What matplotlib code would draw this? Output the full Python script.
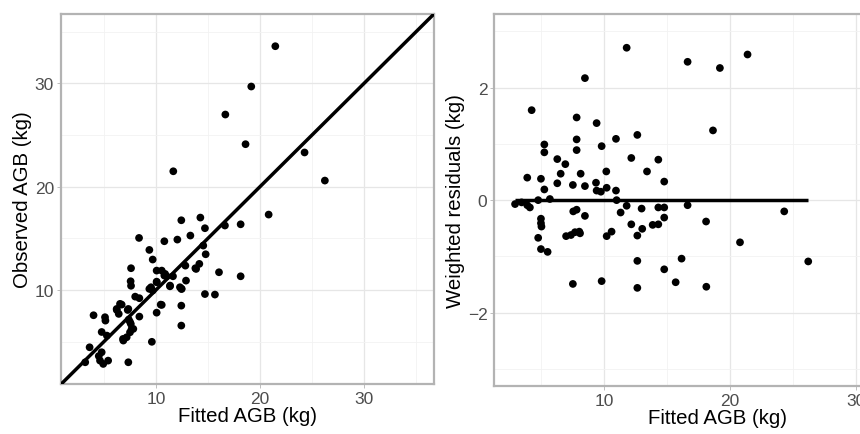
import matplotlib.pyplot as plt
import numpy as np

plt.rcParams['font.family'] = ['Liberation Sans', 'DejaVu Sans']

# left panel: fitted vs observed AGB
fitted = [21.46, 19.15, 16.66, 18.6, 24.27, 26.22, 11.66, 20.82, 12.43, 14.26,
          14.7, 16.62, 18.13, 8.37, 10.8, 12.05, 13.3, 9.36, 9.68, 14.54,
          14.77, 14.16, 13.78, 12.82, 16.05, 18.13, 7.6, 7.56, 7.6, 10.06,
          10.8, 10.06, 9.36, 9.68, 11.34, 12.3, 12.88, 12.43, 14.7, 15.66,
          8.0, 8.4, 10.45, 12.43, 10.06, 4.0, 5.1, 5.14, 6.23, 6.7,
          6.42, 7.28, 7.38, 8.4, 7.58, 12.43, 7.82, 7.5, 7.18, 6.86,
          4.78, 5.28, 9.6, 3.62, 4.78, 4.62, 5.4, 7.34, 4.93, 11.03,
          11.35, 12.47, 10.55, 11.63, 10.87, 9.52, 10.07, 6.54, 6.22, 7.34,
          7.5, 6.83, 7.66, 4.5, 3.2, 13.85, 10.55]
observed = [33.58, 29.68, 26.97, 24.1, 23.3, 20.58, 21.48, 17.29, 16.74, 17.0,
            15.97, 16.23, 16.35, 15.03, 14.71, 14.87, 15.26, 13.87, 12.94, 14.29,
            13.45, 12.52, 12.1, 12.35, 11.71, 11.32, 12.1, 10.84, 10.4, 11.87,
            11.39, 10.8, 10.1, 9.94, 10.35, 10.26, 10.9, 10.1, 9.6, 9.55,
            9.35, 9.2, 8.58, 8.48, 7.8, 7.55, 7.36, 7.03, 8.06, 8.58,
            7.68, 8.06, 7.13, 7.42, 6.71, 6.55, 6.23, 5.9, 5.42, 5.1,
            5.93, 5.58, 4.98, 4.45, 3.97, 3.16, 3.16, 3.0, 2.84, 11.32,
            10.42, 10.1, 8.55, 11.32, 11.55, 10.26, 10.74, 8.65, 8.16, 8.16,
            6.9, 5.26, 6.23, 3.6, 3.0, 12.03, 11.87]

# right panel: fitted vs weighted residuals
fitted_r = [11.78, 16.63, 19.2, 21.4, 8.46, 4.22, 18.65, 7.8, 9.39, 7.8,
            7.8, 9.79, 10.93, 12.63, 5.23, 5.23, 6.26, 6.9, 12.15, 14.3,
            6.53, 8.12, 10.16, 13.4, 3.87, 4.96, 14.77, 6.26, 7.5, 8.46,
            9.34, 9.39, 9.73, 10.19, 5.23, 10.93, 4.74, 5.67, 2.9, 3.42,
            3.87, 4.08, 10.98, 11.78, 12.97, 14.3, 14.77, 16.63, 24.32, 11.3,
            7.53, 7.8, 4.96, 4.96, 5.0, 8.46, 14.77, 12.15, 13.85, 14.3,
            13.02, 18.1, 10.58, 10.19, 12.63, 6.96, 7.35, 7.67, 8.01, 8.07,
            4.74, 20.8, 4.96, 5.49, 16.15, 12.63, 26.23, 14.77, 7.5, 9.79,
            12.63, 15.68, 18.12]
residual = [2.71, 2.46, 2.35, 2.59, 2.17, 1.60, 1.24, 1.47, 1.37, 1.08,
            0.89, 0.96, 1.09, 1.16, 0.99, 0.85, 0.73, 0.64, 0.75, 0.72,
            0.47, 0.47, 0.51, 0.51, 0.40, 0.38, 0.33, 0.30, 0.27, 0.25,
            0.31, 0.17, 0.15, 0.22, 0.19, 0.17, 0.0, 0.02, -0.07, -0.04,
            -0.09, -0.13, 0.0, -0.10, -0.15, -0.13, -0.13, -0.09, -0.20, -0.22,
            -0.20, -0.17, -0.33, -0.41, -0.47, -0.28, -0.31, -0.43, -0.44, -0.43,
            -0.51, -0.38, -0.56, -0.64, -0.63, -0.64, -0.62, -0.57, -0.56, -0.59,
            -0.67, -0.75, -0.87, -0.92, -1.04, -1.08, -1.09, -1.23, -1.49, -1.44,
            -1.56, -1.46, -1.54]

fig = plt.figure(figsize=(8.6, 4.35), dpi=100)
ax1 = fig.add_axes([0.0709, 0.115, 0.4337, 0.8506])
ax2 = fig.add_axes([0.5748, 0.111, 0.518, 0.8545])

def style(ax):
    ax.set_axisbelow(True)
    ax.grid(which='major', color='#e6e6e6', linewidth=0.9)
    ax.grid(which='minor', color='#f2f2f2', linewidth=0.6)
    for s in ax.spines.values():
        s.set_color('#b3b3b3')
        s.set_linewidth(1.6)
    ax.tick_params(which='major', length=3, width=0.6, color='#b3b3b3',
                   labelsize=12.5, labelcolor='#4d4d4d', pad=2)
    ax.tick_params(which='minor', length=0)

# left
ax1.scatter(fitted, observed, s=31, color='black', edgecolors='none', zorder=3)
ax1.axline((0, 0), slope=1, color='black', linewidth=2.5, zorder=4)
ax1.set_xlim(0.87, 36.7)
ax1.set_ylim(0.9, 36.7)
ax1.set_xticks([10, 20, 30])
ax1.set_yticks([10, 20, 30])
ax1.set_xticks([5, 15, 25, 35], minor=True)
ax1.set_yticks([5, 15, 25, 35], minor=True)
style(ax1)
ax1.set_xlabel('Fitted AGB (kg)', fontsize=14.7, labelpad=0)
ax1.set_ylabel('Observed AGB (kg)', fontsize=14.7, labelpad=2)

# right
ax2.scatter(fitted_r, residual, s=31, color='black', edgecolors='none', zorder=3)
ax2.hlines(0, min(fitted_r), max(fitted_r), color='black', linewidth=2.5, zorder=4)
ax2.set_xlim(1.25, 36.7)
ax2.set_ylim(-3.3, 3.31)
ax2.set_xticks([10, 20, 30])
ax2.set_yticks([-2, 0, 2])
ax2.set_xticks([5, 15, 25, 35], minor=True)
ax2.set_yticks([-3, -1, 1, 3], minor=True)
style(ax2)
ax2.set_xlabel('Fitted AGB (kg)', fontsize=14.7, labelpad=0)
ax2.set_ylabel('Weighted residuals (kg)', fontsize=14.7, labelpad=2)

fig.savefig('out.png', dpi=100)
